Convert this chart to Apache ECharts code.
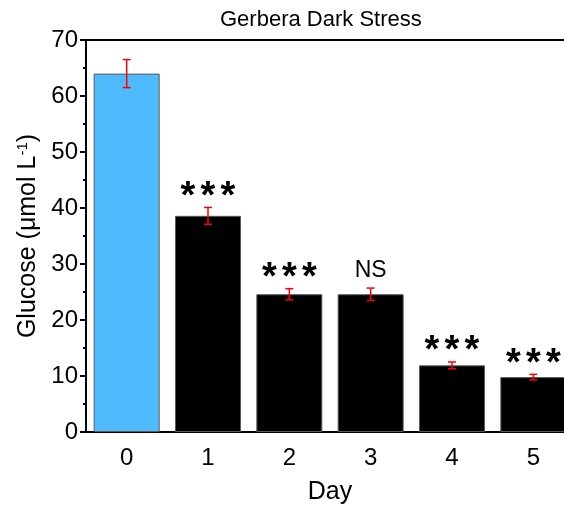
<!DOCTYPE html>
<html>
<head>
<meta charset="utf-8">
<script src="https://cdn.jsdelivr.net/npm/echarts@6/dist/echarts.min.js"></script>
<style>
html,body{margin:0;padding:0;background:#fff;}
#chart{width:564px;height:506px;}
</style>
</head>
<body>
<div id="chart"></div>
<script>
const days = ['0', '1', '2', '3', '4', '5'];
const glucose = [64.0, 38.6, 24.6, 24.6, 11.9, 9.8];
const errors = [2.5, 1.5, 1.0, 1.1, 0.6, 0.5];
const marks = ['', '***', '***', 'NS', '***', '***'];
const barColors = ['#50BBFC', '#000000', '#000000', '#000000', '#000000', '#000000'];
const yTicks = [0, 10, 20, 30, 40, 50, 60, 70];

const chart = echarts.init(document.getElementById('chart'), null, {renderer: 'canvas'});
const FONT = 'Liberation Sans, Arial, sans-serif';

function markText(s) {
  if (s.indexOf('*') >= 0) {
    return s.split('').map(() => '{s|*}').join('');
  }
  return '{n|' + s + '}';
}

const option = {
  animation: false,
  backgroundColor: '#fff',
  title: {
    text: 'Gerbera Dark Stress',
    left: 215, top: 4,
    textStyle: {fontFamily: FONT, fontSize: 22, fontWeight: 'normal', color: '#000'}
  },
  grid: {left: 86, top: 40, right: -10, bottom: 74, containLabel: false, outerBoundsMode: 'none',
    show: true, borderColor: '#000', borderWidth: 2, backgroundColor: 'transparent'},
  xAxis: [{
    type: 'category', data: days, position: 'bottom',
    name: 'Day', nameLocation: 'middle', nameGap: 48,
    nameTextStyle: {fontFamily: FONT, fontSize: 25, color: '#000'},
    axisLine: {lineStyle: {color: '#000', width: 2}},
    axisTick: {alignWithLabel: true, length: 6, lineStyle: {color: '#000', width: 2}},
    axisLabel: {fontFamily: FONT, fontSize: 24, color: '#000', margin: 14},
    splitLine: {show: false}
  }, {
    type: 'category', data: days, position: 'bottom',
    axisLine: {show: false},
    axisTick: {alignWithLabel: false, length: 3, lineStyle: {color: '#000', width: 2}},
    axisLabel: {show: false},
    splitLine: {show: false}
  }],
  yAxis: {
    type: 'value', min: yTicks[0], max: yTicks[yTicks.length - 1], interval: 10,
    name: 'Glucose (μmol L{sup|-1})', nameLocation: 'middle', nameGap: 42,
    nameTextStyle: {fontFamily: FONT, fontSize: 25, color: '#000',
      rich: {sup: {fontFamily: FONT, fontSize: 15, color: '#000', verticalAlign: 'top', padding: [0, 0, 11, 0]}}},
    axisLine: {show: true, lineStyle: {color: '#000', width: 2}},
    axisTick: {show: true, length: 6, lineStyle: {color: '#000', width: 2}},
    minorTick: {show: true, splitNumber: 2, length: 3, lineStyle: {color: '#000', width: 2}},
    axisLabel: {fontFamily: FONT, fontSize: 24, color: '#000', margin: 8},
    splitLine: {show: false}
  },
  series: [{
    type: 'bar', xAxisIndex: 0,
    barWidth: 66,
    data: glucose.map((v, i) => ({value: v, itemStyle: {color: barColors[i], borderColor: '#5a5a5a', borderWidth: 1}})),
    z: 2
  }, {
    type: 'custom', xAxisIndex: 0,
    data: glucose.map((v, i) => [i, v, errors[i]]),
    z: 3,
    renderItem: function (params, api) {
      const i = api.value(0), v = api.value(1), e = api.value(2);
      const hi = api.coord([i, v + e]);
      const lo = api.coord([i, v - e]);
      const cap = 4;
      const style = {stroke: '#ff0000', lineWidth: 1.5};
      const children = [
        {type: 'line', shape: {x1: hi[0], y1: hi[1], x2: lo[0], y2: lo[1]}, style: style},
        {type: 'line', shape: {x1: hi[0] - cap, y1: hi[1], x2: hi[0] + cap, y2: hi[1]}, style: style},
        {type: 'line', shape: {x1: lo[0] - cap, y1: lo[1], x2: lo[0] + cap, y2: lo[1]}, style: style}
      ];
      const m = marks[params.dataIndex];
      if (m) {
        const isStar = m.indexOf('*') >= 0;
        children.push({
          type: 'text',
          x: hi[0], y: hi[1] + (isStar ? 9 : -6),
          style: {
            text: markText(m),
            x: 0, y: 0,
            align: 'center', verticalAlign: 'bottom',
            fill: '#000',
            rich: {
              s: {fontFamily: FONT, fontSize: 38, fontWeight: 'bold', width: 20, align: 'center', fill: '#000'},
              n: {fontFamily: FONT, fontSize: 23, fill: '#000'}
            }
          }
        });
      }
      return {type: 'group', children: children};
    }
  }]
};
chart.setOption(option);
</script>
</body>
</html>
